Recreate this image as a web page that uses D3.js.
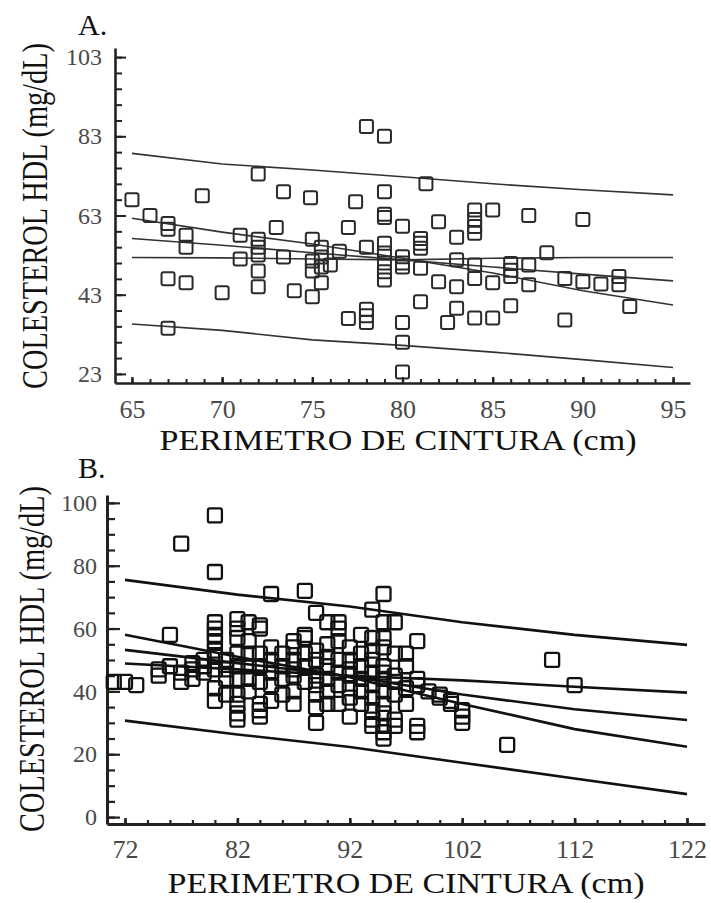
<!DOCTYPE html>
<html><head><meta charset="utf-8">
<script src="https://cdn.jsdelivr.net/npm/d3@7"></script>
<style>body{margin:0;background:#fff}svg{display:block}</style>
</head><body>
<svg id="c" width="711" height="903"></svg>
<script>
// ---------- Panel A data ----------
const pointsA = [[65,67],[66,63],[67,61],[67,59.5],[67,47],[67,34.5],[68,58],[68,55],[68,46],[68.9,68],[70,43.5],
[71,58],[71,52],[72,73.5],[72,57],[72,55],[72,53],[72,49],[72,45],[73,60],[73.4,69],[73.4,52.5],[74,44],
[74.9,67.5],[75,57],[75,51.5],[75,49],[75,42.5],[75.5,55],[75.5,52.5],[75.5,50],[75.5,46],[76,50.5],[76.5,54],
[77,60],[77.4,66.5],[77,37],[78,55],[78,85.5],[78,39.3],[78,37.7],[78,36],[79,83],[79,69],[79,63.3],[79,62.5],
[79,56],[79,53.5],[79,51],[79,48.8],[79,46.7],[80,60.3],[80,52.6],[80,51],[80,50],[80,36],[80,31],[80,23.5],
[81.3,71],[81,57.2],[81,56],[81,54.7],[81,49.7],[81,41.2],[82,61.4],[82,46.3],[82.5,36],[83,57.5],[83,51.8],
[83,45],[83,39.6],[84,64.4],[84,62],[84,60.2],[84,58.5],[84,50.5],[84,47.1],[84,37.1],[85,64.4],[85,46],[85,37.1],
[86,50.9],[86,49.2],[86,47.6],[86,40.2],[87,63],[87,50.5],[87,45.5],[88,53.6],[89,47.1],[89,36.6],[90,62],[90,46.3],
[91,45.7],[92,47.6],[92,45.5],[92.6,40]];
const lineXA = [65,70,75,80,85,90,95];
const predUpperA = [78.7,76.0,74.5,72.8,71.0,69.5,68.2];
const steepA = [62.3,58.8,55.8,52.2,48.5,44.0,40.4];
const midA = [57.2,55.5,53.6,51.8,50.0,48.2,46.5];
const flatA = [52.4,52.3,52.0,51.8,52.2,52.4,52.4];
const predLowerA = [35.6,34.0,31.6,30.2,28.5,26.6,24.6];
const xTicksA = [65,70,75,80,85,90,95];
const yTicksA = [23,43,63,83,103];

// ---------- Panel B data ----------
const pointsB = [[71,43],[72,43],[73,42],[75,45],[75,47],[76,58],[76,48],[77,87],[77,43],[77,46],[78,47],[78,44],[78,49],
[79,50],[79,48],[79,46],[80,96],[80,78],[80,62],[80,60],[80,58],[80,56],[80,53],[80,41],[80,37],[80,51],[80,47],
[81,50],[81,47],[81,44],[81,39],[82,63],[82,60],[82,57],[82,48],[82,44],[82,39],[82,36],[82,33],[82,31],[82,52],
[83,56],[83,52],[83,48],[83,44],[83,40],[83,62],[84,61],[84,60],[84,43],[84,34],[84,36],[84,32],[84,48],[84,52],
[85,71],[85,50],[85,46],[85,42],[85,37],[85,54],[86,39],[86,48],[86,44],[86,52],
[87,56],[87,54],[87,45],[87,40],[87,36],[87,50],[87,47],[88,72],[88,57],[88,52],[88,48],[88,43],[88,58],
[89,65],[89,50],[89,45],[89,39],[89,35],[89,30],[89,53],[89,42],[90,62],[90,48],[90,44],[90,40],[90,36],[90,55],[90,51],
[91,62],[91,60],[91,36],[91,46],[91,42],[91,50],[91,56],[92,50],[92,45],[92,41],[92,38],[92,32],[92,47],[92,54],
[93,48],[93,44],[93,40],[93,36],[93,52],[93,58],[94,66],[94,57],[94,53],[94,31],[94,29],[94,46],[94,42],[94,38],[94,34],[94,50],
[95,71],[95,62],[95,57],[95,54],[95,29],[95,27],[95,25],[95,48],[95,44],[95,40],[95,36],[95,33],[95,46],
[96,62],[96,52],[96,45],[96,43],[96,39],[96,31],[96,29],[97,52],[97,36],[97,48],[97,41],
[98,56],[98,42],[98,29],[98,27],[98,44],[99,40],[100,39],[100,38],[101,37],[101,36],[102,34],[102,32],[102,30],
[106,23],[110,50],[112,42]];
const lineXB = [72,82,92,102,112,122];
const predUpperB = [75.5,70.8,67.0,62.0,58.0,54.8];
const shallowB = [48.9,47.0,45.0,43.5,41.5,39.6];
const midB = [53.2,49.0,44.8,39.0,34.3,30.9];
const steepB = [58.0,51.0,44.5,36.0,28.0,22.4];
const predLowerB = [30.7,26.3,22.3,17.3,12.3,7.3];
const xTicksB = [72,82,92,102,112,122];
const yTicksB = [0,20,40,60,80,100];

const xTitle = "PERIMETRO DE CINTURA (cm)";
const yTitle = "COLESTEROL HDL (mg/dL)";
const FONT = "'Liberation Serif','DejaVu Serif',serif";

const svg = d3.select("#c");

function panel(cfg){
  const g = svg.append("g");
  const x = d3.scaleLinear().domain(cfg.xDom).range(cfg.xRange);
  const y = d3.scaleLinear().domain(cfg.yDom).range(cfg.yRange);
  const x0 = cfg.xRange[0], y0 = cfg.yRange[0];

  // minor ticks
  const minorY = d3.range(cfg.yMinor[0], cfg.yMinor[1]+0.001, cfg.yMinor[2]);
  const minorX = d3.range(cfg.xMinor[0], cfg.xMinor[1]+0.001, cfg.xMinor[2]);
  g.append("g").attr("transform",`translate(${x0},0)`)
    .call(d3.axisLeft(y).tickValues(minorY).tickSizeInner(-cfg.minorLen).tickSizeOuter(0).tickFormat(""))
    .call(s=>s.select(".domain").remove())
    .selectAll("line").attr("stroke","#222").attr("stroke-width",cfg.tickW);
  g.append("g").attr("transform",`translate(0,${y0})`)
    .call(d3.axisBottom(x).tickValues(minorX).tickSizeInner(-4).tickSizeOuter(0).tickFormat(""))
    .call(s=>s.select(".domain").remove())
    .selectAll("line").attr("stroke","#222").attr("stroke-width",cfg.tickW);

  // major y
  const ay = g.append("g").attr("transform",`translate(${x0},0)`)
    .call(d3.axisLeft(y).tickValues(cfg.yTicks).tickSizeInner(-cfg.majorLen).tickSizeOuter(0).tickPadding(cfg.yPad));
  ay.select(".domain").attr("stroke","#222").attr("stroke-width",cfg.axisW);
  ay.selectAll("line").attr("stroke","#222").attr("stroke-width",cfg.tickW);
  ay.selectAll("text").attr("font-family",FONT).attr("font-size",24).attr("fill","#4a4a4a");

  const ax = g.append("g").attr("transform",`translate(0,${y0})`)
    .call(d3.axisBottom(x).tickValues(cfg.xTicks).tickSizeInner(-6).tickSizeOuter(0));
  ax.select(".domain").attr("stroke","#222").attr("stroke-width",cfg.axisW);
  ax.selectAll("line").attr("stroke","#222").attr("stroke-width",cfg.tickW+0.4);
  ax.selectAll("text").attr("font-family",FONT).attr("font-size",26).attr("fill","#4a4a4a")
    .attr("y",cfg.xLabY).attr("dy",null);

  // lines
  const line = d3.line().x(d=>x(d[0])).y(d=>y(d[1]));
  cfg.lines.forEach(arr=>{
    g.append("path").datum(cfg.lineX.map((v,i)=>[v,arr[i]]))
      .attr("d",line).attr("fill","none").attr("stroke",cfg.lineColor).attr("stroke-width",cfg.lineW);
  });

  // points
  const s = cfg.sq;
  g.append("g").selectAll("rect").data(cfg.points).join("rect")
    .attr("x",d=>x(d[0])-s/2).attr("y",d=>y(d[1])-s/2)
    .attr("width",s).attr("height",s).attr("rx",2)
    .attr("fill","none").attr("stroke",cfg.ptColor).attr("stroke-width",cfg.ptW);

  // titles
  g.append("text").attr("x",cfg.xTitleX).attr("y",cfg.xTitleY).attr("text-anchor","middle")
    .attr("font-family",FONT).attr("font-size",30).attr("fill","#111")
    .attr("textLength",cfg.xTitleLen).attr("lengthAdjust","spacingAndGlyphs").text(xTitle);
  const yt = g.append("text").attr("text-anchor","middle").attr("font-family",FONT)
    .attr("font-size",36).attr("fill","#111").text(yTitle);
  const natural = yt.node().getComputedTextLength() || 440;
  const k = 346 / natural;
  yt.attr("transform",`translate(${cfg.yTitleX},${cfg.yTitleY}) rotate(-90) scale(${k},1)`);
  g.append("text").attr("x",78).attr("y",cfg.letterY).attr("font-family",FONT)
    .attr("font-size",30).attr("fill","#111").text(cfg.letter);
}

panel({
  xDom:[64.06,95.94], xRange:[115,690], yDom:[20.7,105.3], yRange:[383,48],
  xTicks:xTicksA, yTicks:yTicksA, yMinor:[23,103,4], xMinor:[65,95,1],
  majorLen:11, minorLen:7, yPad:13, xLabY:35, axisW:2.6, tickW:2,
  lineX:lineXA, lines:[predUpperA,steepA,midA,flatA,predLowerA], lineColor:"#333", lineW:1.6,
  points:pointsA, sq:13, ptColor:"#2a2a2a", ptW:2,
  xTitleX:398, xTitleY:450, xTitleLen:477, yTitleX:47, yTitleY:216, letter:"A.", letterY:35
});
panel({
  xDom:[70.4,123.6], xRange:[107,705], yDom:[-2.2,102.5], yRange:[824,495],
  xTicks:xTicksB, yTicks:yTicksB, yMinor:[0,100,5], xMinor:[72,122,2],
  majorLen:13, minorLen:8, yPad:10, xLabY:34, axisW:3, tickW:2.2,
  lineX:lineXB, lines:[predUpperB,shallowB,midB,steepB,predLowerB], lineColor:"#111", lineW:2.6,
  points:pointsB, sq:14, ptColor:"#111", ptW:2.3,
  xTitleX:406, xTitleY:893, xTitleLen:477, yTitleX:44, yTitleY:659, letter:"B.", letterY:478
});
</script>
</body></html>
